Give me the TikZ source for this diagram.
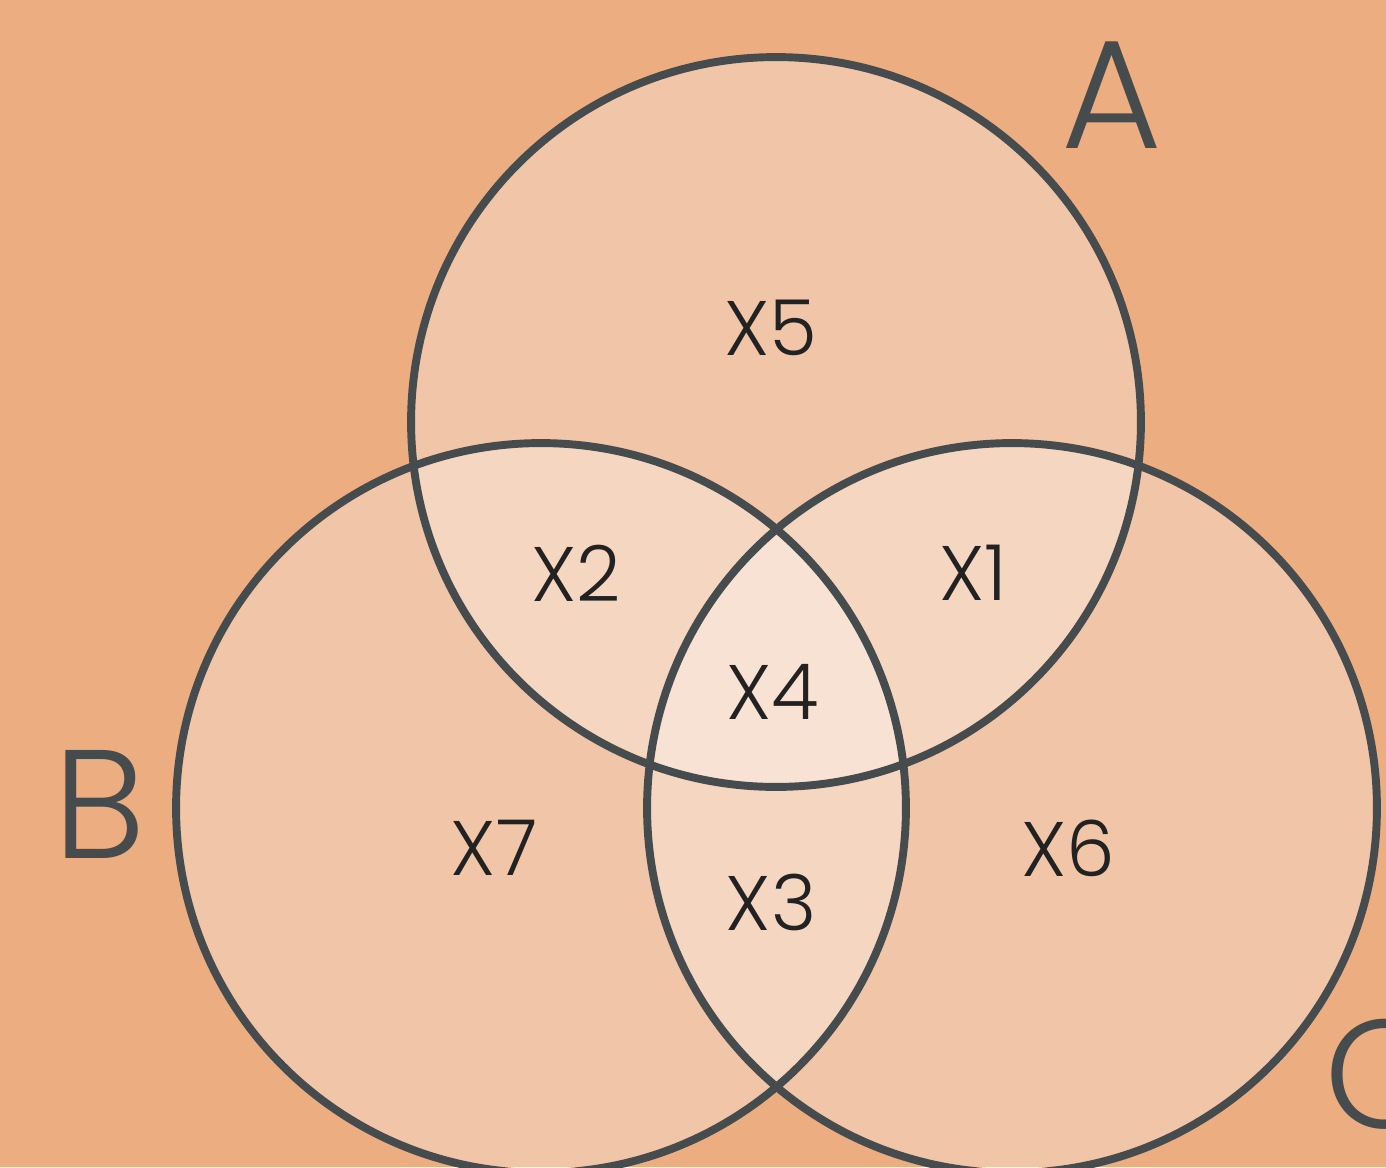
\documentclass[tikz,border=0pt]{standalone}
\usepackage{fontspec}
\setmainfont{Poppins}[UprightFont=* Light]
\usetikzlibrary{positioning}
\definecolor{bgorange}{HTML}{ECAD81}
\definecolor{ringgray}{HTML}{464B4E}
\definecolor{inkdark}{HTML}{222222}

\begin{document}
\begin{tikzpicture}[x=0.02cm,y=-0.02cm,
    region/.style={font=\fontsize{44}{50}\selectfont, text=inkdark, inner sep=0pt},
    setname/.style={font=\fontsize{88}{96}\selectfont, text=ringgray, inner sep=0pt},
    ring/.style={draw=ringgray, line width=4.5pt},
    tint/.style={white, fill opacity=0.3}]
    \useasboundingbox (0,0) rectangle (1386,1167);
    \clip (0,0) rectangle (1386,1167);
    \fill[bgorange] (0,0) rectangle (1386,1167);
    % set centres
    \coordinate (cA) at (776,422);
    \coordinate (cB) at (541,808);
    \coordinate (cC) at (1012,808);
    \fill[tint] (cA) circle[radius=7.3cm];
    \fill[tint] (cB) circle[radius=7.3cm];
    \fill[tint] (cC) circle[radius=7.3cm];
    \draw[ring] (cA) circle[radius=7.3cm];
    \draw[ring] (cB) circle[radius=7.3cm];
    \draw[ring] (cC) circle[radius=7.3cm];
    % set names
    \node[setname] (labA) at (1112,95) {A};
    \node[setname] (labB) at (100,804) {B};
    \node[setname, anchor=west] (labC) at (1324,1074) {C};
    % regions
    \node[region] (x5) at (771,328) {X5};
    \node[region] (x2) at (576,573) {X2};
    \node[region] (x1) at (973,573) {X1};
    \node[region] (x4) at (773,692) {X4};
    \node[region] (x7) at (494,848) {X7};
    \node[region] (x3) at (771,902) {X3};
    \node[region] (x6) at (1068,848) {X6};
\end{tikzpicture}
\end{document}
